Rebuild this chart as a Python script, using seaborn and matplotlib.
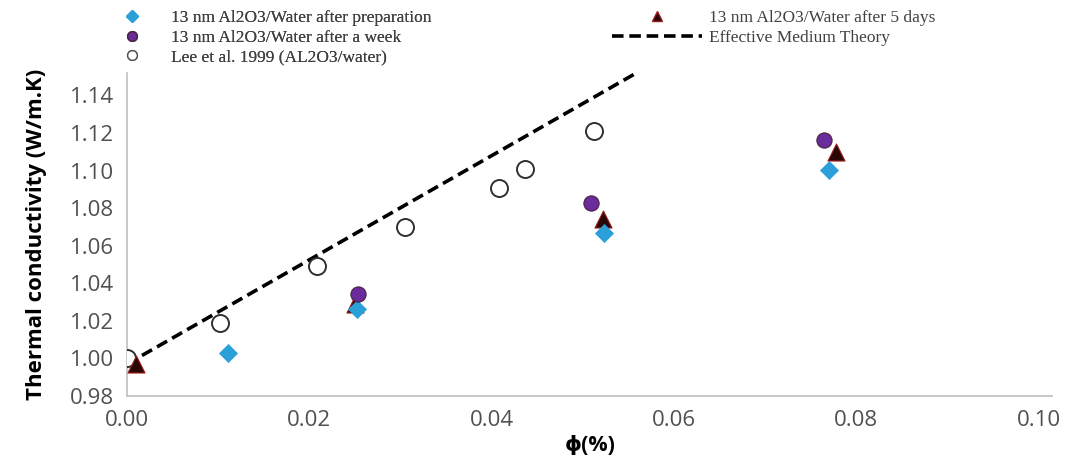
import matplotlib
matplotlib.use("Agg")
import matplotlib.pyplot as plt
from matplotlib.lines import Line2D
import seaborn as sns

# Volume fraction (%) and thermal conductivity (W/m.K) for each data set
phi_prep = [0.0111, 0.0252, 0.0523, 0.0770]
k_prep = [1.0027, 1.0263, 1.0666, 1.1004]

phi_5days = [0.0010, 0.0250, 0.0522, 0.0778]
k_5days = [0.9968, 1.0290, 1.0740, 1.1100]

phi_week = [0.0253, 0.0509, 0.0765]
k_week = [1.0344, 1.0827, 1.1160]

phi_lee = [0.0000, 0.0102, 0.0208, 0.0305, 0.0408, 0.0437, 0.0512]
k_lee = [1.0000, 1.0190, 1.0494, 1.0698, 1.0907, 1.1010, 1.1208]

phi_emt = [0.0000, 0.0600]
k_emt = [0.9970, 1.1634]

labels = [
    "13 nm Al2O3/Water after preparation",
    "13 nm Al2O3/Water after a week",
    "Lee et al. 1999 (AL2O3/water)",
    "13 nm Al2O3/Water after 5 days",
    "Effective Medium Theory",
]

x_ticks = [0.00, 0.02, 0.04, 0.06, 0.08, 0.10]
y_ticks = [0.98, 1.00, 1.02, 1.04, 1.06, 1.08, 1.10, 1.12, 1.14]

sns.set_style("white")
plt.rcParams["font.family"] = ["Open Sans", "DejaVu Sans"]

fig = plt.figure(figsize=(10.85, 4.67), dpi=100)
ax = fig.add_axes([0.117, 0.152, 0.853, 0.692])

sns.lineplot(x=phi_emt, y=k_emt, ax=ax, color="black", linewidth=2.6,
             linestyle=(0, (3.2, 1.6)), zorder=2)
sns.scatterplot(x=phi_lee, y=k_lee, ax=ax, marker="o", s=150,
                facecolor="white", edgecolor="#303030", linewidth=1.4, zorder=3)
sns.scatterplot(x=phi_5days, y=k_5days, ax=ax, marker="^", s=150,
                color="#2b0606", edgecolor="#9a1c1c", linewidth=0.8, zorder=4)
sns.scatterplot(x=phi_prep, y=k_prep, ax=ax, marker="D", s=85,
                color="#2a9fd8", edgecolor="#2a9fd8", linewidth=0.5, zorder=5)
sns.scatterplot(x=phi_week, y=k_week, ax=ax, marker="o", s=120,
                color="#6a2c9c", edgecolor="#4a2340", linewidth=0.8, zorder=6)

ax.set_xlim(0.0, 0.1015)
ax.set_ylim(0.98, 1.152)
ax.set_xticks(x_ticks)
ax.set_xticklabels([f"{v:.2f}" for v in x_ticks])
ax.set_yticks(y_ticks)
ax.set_yticklabels([f"{v:.2f}" for v in y_ticks])
ax.tick_params(axis="both", length=0, labelsize=16, colors="#505050")
ax.tick_params(axis="x", pad=10)
ax.tick_params(axis="y", pad=9)

for side in ("top", "right"):
    ax.spines[side].set_visible(False)
for side in ("left", "bottom"):
    ax.spines[side].set_color("#bfbfbf")
    ax.spines[side].set_linewidth(1.2)

ax.set_xlabel("ϕ(%)", fontsize=15.5, fontweight="bold", color="black", labelpad=3)
ax.set_ylabel("Thermal conductivity (W/m.K)", fontsize=16, fontweight="bold",
              color="black", labelpad=17)

legend_font = {"family": ["Liberation Serif", "DejaVu Serif"], "size": 12.5}

left_handles = [
    Line2D([], [], linestyle="none", marker="D", markersize=6,
           color="#2a9fd8"),
    Line2D([], [], linestyle="none", marker="o", markersize=7,
           color="#6a2c9c", markeredgecolor="#4a2340"),
    Line2D([], [], linestyle="none", marker="o", markersize=7,
           markerfacecolor="white", markeredgecolor="#505050"),
]
right_handles = [
    Line2D([], [], linestyle="none", marker="^", markersize=7,
           color="#2b0606", markeredgecolor="#9a1c1c"),
    Line2D([], [], color="black", linewidth=2.6, linestyle=(0, (3.2, 1.6))),
]

leg_left = fig.legend(left_handles, labels[:3], loc="upper left",
                      bbox_to_anchor=(0.094, 1.005), frameon=False,
                      prop=legend_font, handlelength=2.0, handletextpad=1.3,
                      labelspacing=0.2, borderpad=0.2, labelcolor="#404040")
leg_right = fig.legend(right_handles, labels[3:], loc="upper left",
                       bbox_to_anchor=(0.553, 1.005), frameon=False,
                       prop=legend_font, handlelength=5.2, handletextpad=0.4,
                       labelspacing=0.2, borderpad=0.2, labelcolor="#404040")
fig.add_artist(leg_left)

fig.savefig("out.png", dpi=100)
